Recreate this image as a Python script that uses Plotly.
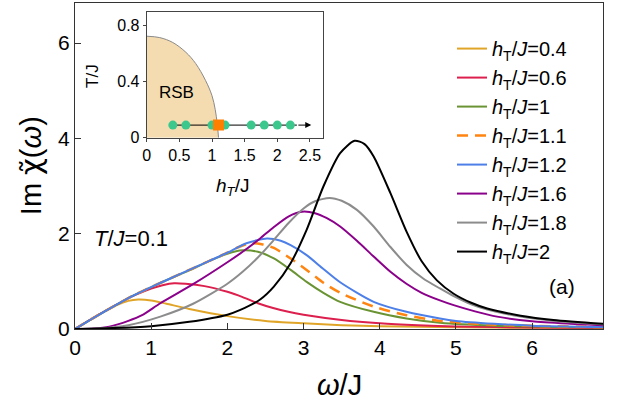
import plotly.graph_objects as go

FONT = "Liberation Sans, Arial, sans-serif"

# ---------------- main panel data (omega/J, Im chi) ----------------
w_04 = [0, 0.2, 0.4, 0.55, 0.7, 0.83, 1.0, 1.2, 1.5, 2.0, 2.5, 3.0, 3.5, 4.0, 5.0, 6.0, 6.93]
v_04 = [0, 0.19, 0.38, 0.5, 0.59, 0.62, 0.6, 0.53, 0.42, 0.27, 0.17, 0.12, 0.08, 0.06, 0.035, 0.025, 0.02]

w_06 = [0, 0.3, 0.6, 0.8, 1.0, 1.15, 1.3, 1.45, 1.7, 2.0, 2.2, 2.4, 2.6, 2.8, 3.0, 3.5, 4.0, 4.5, 5.0, 6.0, 6.93]
v_06 = [0, 0.29, 0.56, 0.72, 0.85, 0.92, 0.96, 0.95, 0.9, 0.78, 0.67, 0.54, 0.44, 0.36, 0.3, 0.19, 0.12, 0.08, 0.055, 0.03, 0.02]

w_10 = [0, 0.25, 0.5, 0.75, 1.0, 1.25, 1.5, 1.75, 2.0, 2.2, 2.4, 2.61, 2.83, 3.04, 3.26, 3.48, 3.92, 4.35, 4.79, 5.5, 6.93]
v_10 = [0, 0.24, 0.47, 0.69, 0.88, 1.06, 1.23, 1.42, 1.58, 1.65, 1.62, 1.48, 1.24, 0.99, 0.76, 0.57, 0.36, 0.22, 0.13, 0.07, 0.03]

w_11 = [0, 0.25, 0.5, 0.75, 1.0, 1.25, 1.5, 1.75, 2.0, 2.15, 2.3, 2.45, 2.61, 2.83, 3.04, 3.26, 3.48, 3.92, 4.35, 4.79, 5.5, 6.93]
v_11 = [0, 0.24, 0.47, 0.69, 0.88, 1.06, 1.24, 1.42, 1.6, 1.72, 1.8, 1.78, 1.7, 1.48, 1.24, 0.97, 0.76, 0.47, 0.29, 0.17, 0.09, 0.04]

w_12 = [0, 0.25, 0.5, 0.75, 1.0, 1.25, 1.5, 1.75, 2.0, 2.25, 2.52, 2.7, 2.83, 3.04, 3.26, 3.48, 3.92, 4.35, 4.79, 5.0, 5.5, 6.0, 6.93]
v_12 = [0, 0.24, 0.47, 0.69, 0.88, 1.06, 1.24, 1.42, 1.6, 1.8, 1.9, 1.85, 1.76, 1.55, 1.26, 0.98, 0.57, 0.36, 0.22, 0.17, 0.11, 0.07, 0.04]

w_16 = [0, 0.25, 0.45, 0.7, 0.88, 1.12, 1.55, 2.0, 2.2, 2.43, 2.61, 2.8, 2.98, 3.15, 3.3, 3.48, 3.7, 3.92, 4.14, 4.35, 4.55, 4.79, 4.97, 5.25, 5.54, 6.0, 6.5, 6.93]
v_16 = [0, 0.01, 0.05, 0.17, 0.29, 0.54, 0.94, 1.4, 1.62, 1.9, 2.14, 2.36, 2.46, 2.43, 2.33, 2.15, 1.85, 1.52, 1.2, 0.95, 0.76, 0.6, 0.5, 0.37, 0.26, 0.16, 0.11, 0.08]

w_18 = [0, 0.3, 0.7, 1.12, 1.55, 2.0, 2.2, 2.4, 2.6, 2.8, 3.0, 3.15, 3.34, 3.5, 3.7, 3.92, 4.14, 4.35, 4.57, 4.79, 4.97, 5.2, 5.41, 5.85, 6.28, 6.93]
v_18 = [0, 0.01, 0.08, 0.26, 0.53, 0.95, 1.2, 1.5, 1.85, 2.22, 2.53, 2.68, 2.75, 2.69, 2.5, 2.15, 1.72, 1.35, 1.06, 0.85, 0.69, 0.52, 0.41, 0.26, 0.17, 0.1]

w_20 = [0, 0.5, 1.0, 1.5, 2.0, 2.17, 2.43, 2.61, 2.83, 3.04, 3.26, 3.48, 3.67, 3.8, 3.92, 4.14, 4.35, 4.55, 4.75, 4.97, 5.2, 5.41, 5.85, 6.28, 6.93]
v_20 = [0, 0.02, 0.06, 0.15, 0.3, 0.4, 0.62, 0.89, 1.38, 2.08, 2.99, 3.69, 3.95, 3.88, 3.62, 2.85, 2.05, 1.42, 1.02, 0.74, 0.55, 0.43, 0.28, 0.19, 0.11]

series = [
    ("0.4", w_04, v_04, "#e0a528", "solid"),
    ("0.6", w_06, v_06, "#dc1f4d", "solid"),
    ("1", w_10, v_10, "#6a9433", "solid"),
    ("1.1", w_11, v_11, "#ff8410", "11px,7px"),
    ("1.2", w_12, v_12, "#4d7fe8", "solid"),
    ("1.6", w_16, v_16, "#8b008b", "solid"),
    ("1.8", w_18, v_18, "#8c8c8c", "solid"),
    ("2", w_20, v_20, "#000000", "solid"),
]

x_ticks = [0, 1, 2, 3, 4, 5, 6]
y_ticks = [0, 2, 4, 6]

# ---------------- inset data (phase diagram) ----------------
rsb_h = [0, 0.2, 0.4, 0.6, 0.75, 0.9, 1.0, 1.05, 1.08, 1.1]
rsb_T = [0.725, 0.715, 0.68, 0.61, 0.53, 0.41, 0.3, 0.2, 0.1, 0.0]
dots_h = [0.4, 0.6, 1.0, 1.2, 1.6, 1.8, 2.0, 2.2]
dot_T = 0.09
square_h = [1.1]
arrow_h = [0.4, 2.3, 2.52]
inset_xticks = [0, 0.5, 1, 1.5, 2, 2.5]
inset_xticktext = ["0", "0.5", "1", "1.5", "2", "2.5"]
inset_yticks = [0, 0.4, 0.8]
inset_yticktext = ["0", "0.4", "0.8"]

fig = go.Figure()

for name, w, v, col, dash in series:
    fig.add_trace(go.Scatter(
        x=w, y=v, mode="lines",
        line=dict(color=col, width=2.5 if name == "1.1" else 2, dash=dash, shape="spline", smoothing=0.7),
        name="<i>h</i><sub>T</sub>/<i>J</i>=" + name,
    ))

# inset traces
fig.add_trace(go.Scatter(x=rsb_h, y=rsb_T, xaxis="x2", yaxis="y2", mode="lines",
                         fill="tozeroy", fillcolor="#f4dbb0",
                         line=dict(color="#8a8a8a", width=1, shape="spline"), showlegend=False))
fig.add_trace(go.Scatter(x=arrow_h[:2], y=[dot_T, dot_T], xaxis="x2", yaxis="y2", mode="lines",
                         line=dict(color="black", width=1), showlegend=False))
fig.add_trace(go.Scatter(x=dots_h, y=[dot_T] * len(dots_h), xaxis="x2", yaxis="y2", mode="markers",
                         marker=dict(color="#3cc88c", size=9), showlegend=False))
fig.add_trace(go.Scatter(x=square_h, y=[dot_T], xaxis="x2", yaxis="y2", mode="markers",
                         marker=dict(color="#ff7f00", size=11, symbol="square"), showlegend=False))

ax_common = dict(showgrid=False, zeroline=False, showline=True, linecolor="#333", linewidth=1,
                 mirror=True, tickfont=dict(family=FONT, size=21, color="black"),
                 ticks="inside", ticklen=6, tickcolor="#333", automargin=False)
inset_common = dict(showgrid=False, zeroline=False, showline=True, linecolor="#444", linewidth=1,
                    mirror=True, ticks="outside", ticklen=3, automargin=False,
                    tickfont=dict(family=FONT, size=16, color="black"))

fig.update_layout(
    width=617, height=409,
    margin=dict(l=75, r=14, t=3, b=80),
    paper_bgcolor="white", plot_bgcolor="white",
    font=dict(family=FONT, color="black"),
    xaxis=dict(range=[0, 6.93], tickvals=x_ticks, **ax_common),
    yaxis=dict(range=[0, 6.84], tickvals=y_ticks, **ax_common),
    xaxis2=dict(domain=[0.1358, 0.4697], anchor="y2", range=[0, 2.7], tickvals=inset_xticks,
                ticktext=inset_xticktext, **inset_common),
    yaxis2=dict(domain=[0.5868, 0.9733], anchor="x2", range=[0, 0.9], tickvals=inset_yticks,
                ticktext=inset_yticktext, **inset_common),
    legend=dict(x=0.714, y=0.92, xanchor="left", yanchor="top", bgcolor="rgba(0,0,0,0)",
                font=dict(family=FONT, size=20, color="black"), tracegroupgap=0),
    showlegend=True,
)

fig.add_shape(type="rect", xref="x2 domain", yref="y2 domain", x0=0, x1=1, y0=0, y1=1,
              fillcolor="#eef6fd", line=dict(width=0), layer="below")

fig.add_annotation(x=arrow_h[2], y=dot_T, ax=arrow_h[1], ay=dot_T, xref="x2", yref="y2",
                   axref="x2", ayref="y2", showarrow=True, arrowhead=2, arrowsize=1.2,
                   arrowwidth=1, arrowcolor="black", text="")

annos = [
    dict(text="<i>ω</i>/J", x=0.5, y=-0.172, size=29, angle=0),
    dict(text="Im <span style=\"font-family:DejaVu Sans\">χ̃</span>(<i>ω</i>)",
         x=-0.083, y=0.5, size=29, angle=-90),
    dict(text="<i>T</i>/<i>J</i>=0.1", x=0.032, y=0.279, size=22, angle=0, anchor="left"),
    dict(text="(a)", x=0.922, y=0.129, size=21, angle=0),
    dict(text="T/J", x=0.032, y=0.776, size=17, angle=-90),
    dict(text="<i>h<sub>T</sub></i>/J", x=0.299, y=0.4356, size=19, angle=0),
]
for a in annos:
    fig.add_annotation(text=a["text"], x=a["x"], y=a["y"], xref="paper", yref="paper",
                       showarrow=False, textangle=a["angle"],
                       xanchor=a.get("anchor", "center"), yanchor="middle",
                       font=dict(family=a.get("family", FONT), size=a["size"], color="black"))

fig.add_annotation(text="RSB", x=0.46, y=0.32, xref="x2", yref="y2", showarrow=False,
                   font=dict(family=FONT, size=17, color="black"))

fig.write_html("out.html", config={"displayModeBar": False},
               post_script="document.body.style.margin='0';")
